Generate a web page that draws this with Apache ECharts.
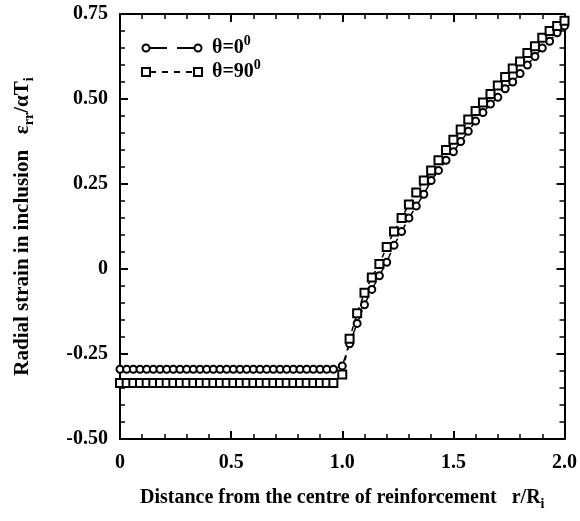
<!DOCTYPE html>
<html><head><meta charset="utf-8">
<script src="https://cdn.jsdelivr.net/npm/echarts@6/dist/echarts.min.js"></script>
<style>html,body{margin:0;padding:0;background:#fff}#c{width:580px;height:521px}</style>
</head><body><div id="c"></div>
<script>
// r / R_i positions: inside the inclusion (flat part) and outside (curve)
const rInside = [0,0.03,0.06,0.09,0.12,0.15,0.18,0.21,0.24,0.27,0.30,0.33,0.36,0.39,0.42,0.45,0.48,
  0.51,0.54,0.57,0.60,0.63,0.66,0.69,0.72,0.75,0.78,0.81,0.84,0.87,0.90,0.93,0.96];
const rOutside = [1.0,1.033,1.067,1.1,1.133,1.167,1.2,1.233,1.267,1.3,1.333,1.367,1.4,1.433,1.467,1.5,
  1.533,1.567,1.6,1.633,1.667,1.7,1.733,1.767,1.8,1.833,1.867,1.9,1.933,1.967,2.0];
// theta = 0 deg (circles)
const theta0Inside = [-0.295,-0.295,-0.295,-0.295,-0.295,-0.295,-0.295,-0.295,-0.295,-0.295,-0.295,
  -0.295,-0.295,-0.295,-0.295,-0.295,-0.295,-0.295,-0.295,-0.295,-0.295,-0.295,-0.295,-0.295,-0.295,
  -0.295,-0.295,-0.295,-0.295,-0.295,-0.295,-0.295,-0.295];
const theta0Outside = [-0.285,-0.22,-0.16,-0.105,-0.06,-0.02,0.02,0.07,0.11,0.15,
  0.185,0.22,0.26,0.29,0.32,0.345,0.375,0.405,0.435,0.46,
  0.485,0.505,0.53,0.55,0.575,0.60,0.625,0.65,0.67,0.695,0.715];
// theta = 90 deg (squares)
const theta90Inside = [-0.335,-0.335,-0.335,-0.335,-0.335,-0.335,-0.335,-0.335,-0.335,-0.335,-0.335,
  -0.335,-0.335,-0.335,-0.335,-0.335,-0.335,-0.335,-0.335,-0.335,-0.335,-0.335,-0.335,-0.335,-0.335,
  -0.335,-0.335,-0.335,-0.335,-0.335,-0.335,-0.335,-0.335];
const theta90Outside = [-0.31,-0.205,-0.13,-0.07,-0.025,0.015,0.065,0.11,0.15,0.19,
  0.225,0.26,0.29,0.32,0.35,0.38,0.41,0.44,0.465,0.49,
  0.515,0.54,0.565,0.59,0.61,0.635,0.655,0.68,0.70,0.715,0.73];
const xTicks = ['0','0.5','1.0','1.5','2.0'];
const yTicks = ['-0.50','-0.25','0','0.25','0.50','0.75'];
const seriesNames = ['θ=0', 'θ=90'];

const rAll = rInside.concat(rOutside);
const t0 = theta0Inside.concat(theta0Outside);
const t90 = theta90Inside.concat(theta90Outside);

const FONT = '"Liberation Serif", "Times New Roman", serif';
const chart = echarts.init(document.getElementById('c'), null, {renderer: 'canvas'});
const axisCommon = {
  axisLine: {show: true, onZero: false, lineStyle: {color: '#000', width: 2}},
  axisTick: {show: true, inside: true, length: 8, lineStyle: {color: '#000', width: 2}},
  minorTick: {show: true, splitNumber: 5, length: 5, lineStyle: {color: '#000', width: 1.5}},
  splitLine: {show: false}
};
const labelStyle = {color: '#000', fontFamily: FONT, fontWeight: 'bold', fontSize: 20};
const xLabel = v => xTicks[Math.round(v / 0.5)];
const yLabel = v => yTicks[Math.round((v + 0.5) / 0.25)];

function legendRow(y, sym, name, dash) {
  const els = [];
  const mk = (cx) => sym === 'circle'
    ? {type: 'circle', shape: {cx: cx, cy: y, r: 3.5}, style: {fill: '#fff', stroke: '#000', lineWidth: 2}}
    : {type: 'rect', shape: {x: cx - 4, y: y - 4, width: 8, height: 8}, style: {fill: '#fff', stroke: '#000', lineWidth: 2}};
  els.push({type: 'line', shape: {x1: 150, y1: y, x2: 194, y2: y}, style: {stroke: '#000', lineWidth: 2, lineDash: dash}});
  els.push(mk(146), mk(198));
  els.push({type: 'text', x: 212, y: y, style: {
    text: '{m|' + name + '}{s|0}', verticalAlign: 'middle',
    rich: {m: {fontFamily: FONT, fontWeight: 'bold', fontSize: 20, fill: '#000'},
           s: {fontFamily: FONT, fontWeight: 'bold', fontSize: 14, fill: '#000', padding: [0, 0, 14, 0]}}
  }});
  return els;
}

chart.setOption({
  animation: false,
  backgroundColor: '#fff',
  grid: {left: 120, right: 13, top: 14, bottom: 82},
  xAxis: [
    Object.assign({type: 'value', min: 0, max: 2, interval: 0.5, position: 'bottom',
      axisLabel: Object.assign({formatter: xLabel, margin: 14}, labelStyle),
      name: 'Distance from the centre of reinforcement   r/R{sub|i}',
      nameLocation: 'middle', nameGap: 46,
      nameTextStyle: {color: '#000', fontFamily: FONT, fontWeight: 'bold', fontSize: 20,
        rich: {sub: {fontFamily: FONT, fontWeight: 'bold', fontSize: 14, color: '#000', padding: [12, 0, 0, 0]}}}
    }, axisCommon),
    Object.assign({type: 'value', min: 0, max: 2, interval: 0.5, position: 'top', axisLabel: {show: false}}, axisCommon)
  ],
  yAxis: [
    Object.assign({type: 'value', min: -0.5, max: 0.75, interval: 0.25, position: 'left',
      axisLabel: Object.assign({formatter: yLabel, margin: 12}, labelStyle),
      name: 'Radial strain in inclusion   ε{sub|rr}/αT{sub|i}',
      nameLocation: 'middle', nameGap: 84, nameRotate: 90,
      nameTextStyle: {color: '#000', fontFamily: FONT, fontWeight: 'bold', fontSize: 21,
        rich: {sub: {fontFamily: FONT, fontWeight: 'bold', fontSize: 14, color: '#000', padding: [12, 0, 0, 0]}}}
    }, axisCommon),
    Object.assign({type: 'value', min: -0.5, max: 0.75, interval: 0.25, position: 'right', axisLabel: {show: false}}, axisCommon)
  ],
  series: [
    {name: seriesNames[0], type: 'line', data: rAll.map((r, i) => [r, t0[i]]),
     symbol: 'circle', symbolSize: 7, showAllSymbol: true,
     lineStyle: {color: '#000', width: 1.5, type: [10, 6]},
     itemStyle: {color: '#fff', borderColor: '#000', borderWidth: 2}},
    {name: seriesNames[1], type: 'line', data: rAll.map((r, i) => [r, t90[i]]),
     symbol: 'rect', symbolSize: 8, showAllSymbol: true,
     lineStyle: {color: '#000', width: 1.5, type: [5, 5]},
     itemStyle: {color: '#fff', borderColor: '#000', borderWidth: 2}}
  ],
  graphic: [].concat(legendRow(48, 'circle', seriesNames[0], [17, 10]), legendRow(72, 'rect', seriesNames[1], [6, 6]))
});
</script></body></html>
